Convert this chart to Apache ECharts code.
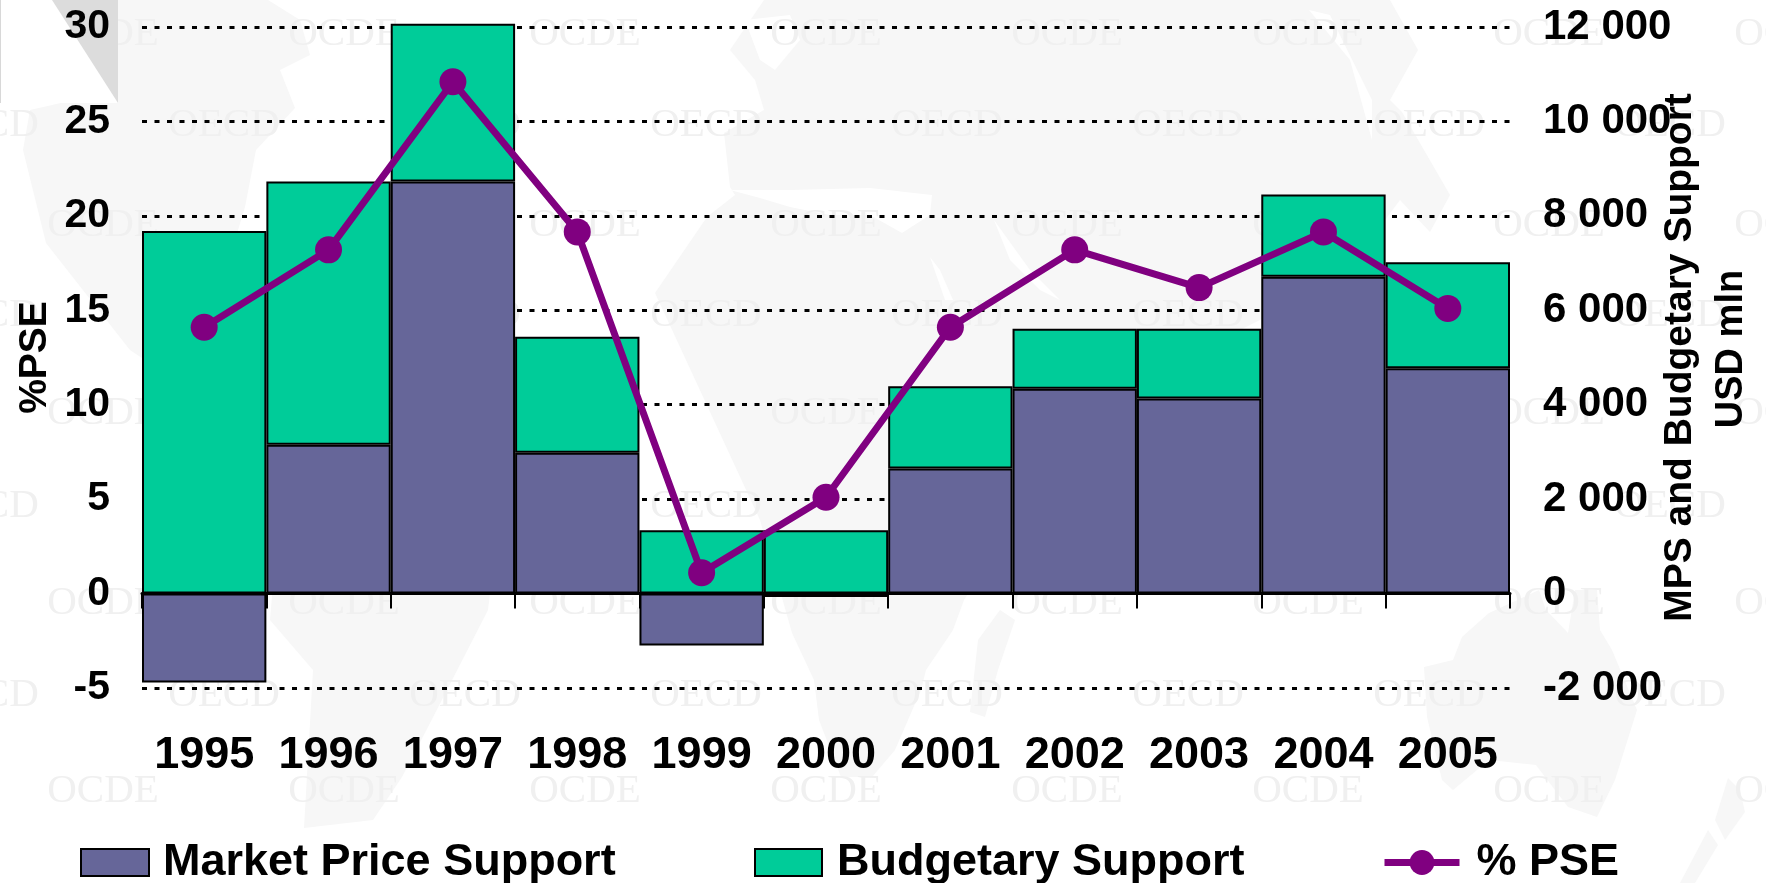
<!DOCTYPE html>
<html><head><meta charset="utf-8">
<style>html,body{margin:0;padding:0;background:#fff}#c{width:1766px;height:883px}</style>
<script src="https://cdn.jsdelivr.net/npm/echarts@6/dist/echarts.min.js"></script>
</head><body><div id="c"></div>
<script>
const years=['1995','1996','1997','1998','1999','2000','2001','2002','2003','2004','2005'];
const marketPriceSupport=[-1885,3150,8730,2980,-1100,-70,2650,4340,4130,6710,4770];
const budgetarySupport=[7680,5580,3340,2460,1340,1340,1740,1270,1480,1740,2250];
const pse=[14.1,18.2,27.1,19.15,1.1,5.1,14.1,18.2,16.2,19.15,15.1];
const FONT='"Liberation Sans",Arial,sans-serif';
const wmRows=[[34,'OCDE'],[125,'OECD'],[225,'OCDE'],[315,'OECD'],[413,'OCDE'],[506,'OECD'],[603,'OCDE'],[695,'OECD'],[791,'OCDE']];
const graphics=[];
const land=[
 [[118,0],[268,0],[300,20],[310,55],[280,70],[295,108],[256,150],[245,207],[235,240],[280,330],[160,370],[130,350],[46,243],[23,150],[30,110],[118,90]],
 [[270,620],[313,670],[304,828],[373,820],[402,777],[428,727],[488,610],[494,560],[400,500],[280,500]],
 [[764,0],[1390,0],[1418,50],[1390,100],[1402,112],[1450,195],[1430,232],[1400,200],[1370,240],[1360,340],[1300,300],[1240,330],[1180,340],[1120,330],[1080,420],[964,600],[953,630],[926,670],[921,690],[895,750],[872,777],[841,777],[819,720],[814,680],[792,633],[760,520],[655,293],[707,217],[735,195],[730,187],[724,133],[764,110],[755,80],[730,50]],
 [[1000,610],[1015,620],[998,670],[985,717],[970,712],[978,640]],
 [[1597,590],[1575,590],[1568,633],[1546,610],[1539,590],[1489,613],[1462,637],[1453,660],[1424,667],[1427,717],[1442,780],[1453,790],[1489,760],[1536,765],[1568,807],[1597,817],[1615,780],[1637,710],[1612,650],[1600,630]],
 [[1728,778],[1740,790],[1745,812],[1725,840],[1715,820]],
 [[1708,830],[1718,845],[1695,883],[1680,883]]
];
land.forEach(p=>graphics.push({type:'polygon',z:-10,silent:true,shape:{points:p},style:{fill:'#f7f7f7'}}));
const gaps=[
 [[730,190],[790,190],[870,188],[932,195],[930,215],[902,233],[870,215],[830,215],[790,207],[760,198]],
 [[994,220],[1010,260],[1040,290],[1060,300],[1030,270]],
 [[930,257],[940,270],[953,300],[945,300]],
 [[1309,10],[1330,15],[1372,100],[1372,140],[1350,60]],
 [[745,20],[790,15],[800,40],[775,70],[760,60]]
];
gaps.forEach(p=>graphics.push({type:'polygon',z:-10,silent:true,shape:{points:p},style:{fill:'#fff'}}));
wmRows.forEach(([y,w])=>{
  const start=w==='OCDE'?103:-17;
  for(let x=start;x<1800;x+=241){
    graphics.push({type:'text',z:-9,silent:true,x:x,y:y,style:{text:w,font:'41px "Liberation Serif",serif',fill:'#f0f0f0',align:'center',verticalAlign:'middle'}});
  }
});
graphics.push({type:'rect',z:-8,silent:true,shape:{x:0,y:0,width:118,height:103},style:{fill:'#fff'}});
graphics.push({type:'polygon',z:-7,silent:true,shape:{points:[[52,0],[118,0],[118,103]]},style:{fill:'#dcdcdc'}});
graphics.push({type:'rect',z:-7,silent:true,shape:{x:0,y:0,width:1,height:103},style:{fill:'#d8d8d8'}});
graphics.push({type:'text',z:10,silent:true,x:1732,y:349,rotation:Math.PI/2,style:{text:'USD mln',font:'bold 38px '+FONT,fill:'#000',align:'center',verticalAlign:'middle'}});
const legendText=p=>({fontFamily:FONT,fontWeight:'bold',fontSize:45,color:'#000',padding:[0,0,0,p]});
const chart=echarts.init(document.getElementById('c'),null,{renderer:'canvas'});
chart.setOption({
 animation:false,
 backgroundColor:'#fff',
 textStyle:{fontFamily:FONT},
 graphic:graphics,
 grid:{left:142,right:256,top:27,bottom:195,containLabel:false},
 legend:[
  {left:80,top:840,padding:0,itemWidth:68,itemHeight:27,icon:'rect',data:['Market Price Support'],textStyle:legendText(9)},
  {left:754,top:840,padding:0,itemWidth:67,itemHeight:27,icon:'rect',data:['Budgetary Support'],textStyle:legendText(10)},
  {left:1381,top:840,padding:0,itemWidth:75,itemHeight:31,data:['% PSE'],lineStyle:{width:7},textStyle:legendText(12)}
 ],
 xAxis:{type:'category',data:years,z:3,
  axisLine:{onZero:true,lineStyle:{color:'#000',width:3}},
  axisTick:{show:true,alignWithLabel:false,length:15,lineStyle:{color:'#000',width:2}},
  axisLabel:{margin:45,interval:0,fontFamily:FONT,fontWeight:'bold',fontSize:45,color:'#000'},
  splitLine:{show:false}},
 yAxis:[
  {type:'value',min:-5,max:30,interval:5,position:'left',name:'%PSE',nameLocation:'middle',nameGap:87,nameRotate:90,nameMoveOverlap:false,
   nameTextStyle:{fontFamily:FONT,fontWeight:'bold',fontSize:39,color:'#000'},
   axisLine:{show:false},axisTick:{show:false},
   axisLabel:{margin:32,padding:[4,0,0,0],fontFamily:FONT,fontWeight:'bold',fontSize:41,color:'#000'},
   splitLine:{show:true,lineStyle:{color:'#000',width:3,type:[5,7.5]}}},
  {type:'value',min:-2000,max:12000,interval:2000,position:'right',name:'MPS and Budgetary Support',nameLocation:'middle',nameGap:151,nameRotate:90,nameMoveOverlap:false,
   nameTextStyle:{fontFamily:FONT,fontWeight:'bold',fontSize:39,color:'#000'},
   axisLine:{show:false},axisTick:{show:false},
   axisLabel:{margin:33,padding:[2,0,0,0],align:'left',fontFamily:FONT,fontWeight:'bold',fontSize:42,color:'#000',
     formatter:v=>{const s=String(Math.abs(v));const t=s.length>3?s.slice(0,-3)+' '+s.slice(-3):s;return (v<0?'-':'')+t;}},
   splitLine:{show:false}}
 ],
 series:[
  {name:'Market Price Support',type:'bar',yAxisIndex:1,stack:'s',barWidth:'100%',clip:false,data:marketPriceSupport,
   itemStyle:{color:'#666699',borderColor:'#000',borderWidth:2}},
  {name:'Budgetary Support',type:'bar',yAxisIndex:1,stack:'s',barWidth:'100%',clip:false,data:budgetarySupport,
   itemStyle:{color:'#00CC99',borderColor:'#000',borderWidth:2}},
  {name:'% PSE',type:'line',yAxisIndex:0,z:5,data:pse,symbol:'circle',symbolSize:27,
   lineStyle:{color:'#800080',width:7},itemStyle:{color:'#800080'}}
 ]
});
</script></body></html>
